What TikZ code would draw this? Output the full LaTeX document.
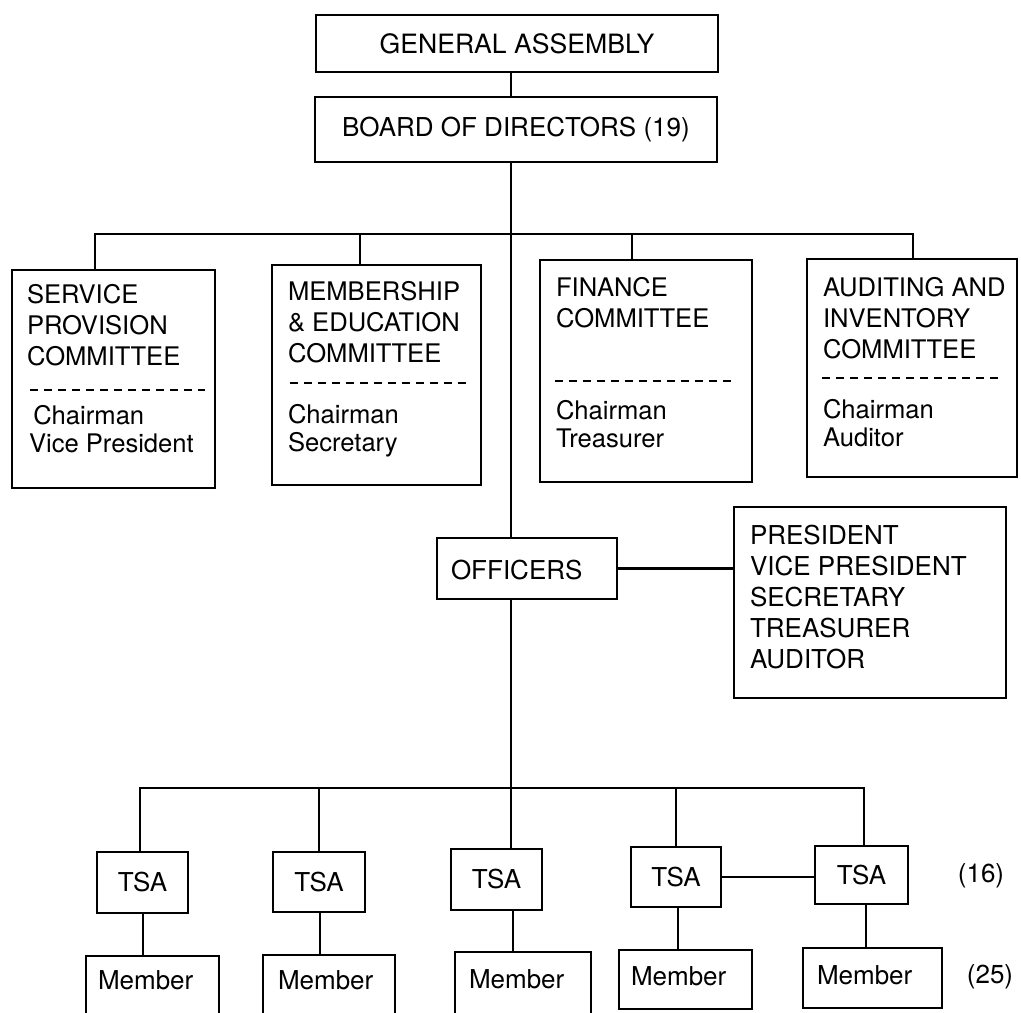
\documentclass[tikz,border=0pt]{standalone}
\usepackage{fontspec}
\setmainfont{TeX Gyre Heros}
\begin{document}
\begin{tikzpicture}[x=0.5pt,y=-0.5pt,
  line width=1.2pt,
  box/.style={draw, rectangle, inner sep=0pt, outer sep=0pt},
  lbl/.style={inner sep=0pt, outer sep=0pt, anchor=north west, align=left},
  ttl/.style={lbl, font=\fontsize{12.8}{15.5}\selectfont},
  subtxt/.style={lbl, font=\fontsize{12.8}{14}\selectfont},
  big/.style={font=\fontsize{13}{15.5}\selectfont},
  dashsep/.style={line width=1pt, dash pattern=on 4pt off 3pt},
]
\useasboundingbox (0,0) rectangle (1021,1012);

% top boxes
\node[box, font=\fontsize{13.3}{15.5}\selectfont, minimum width=201pt, minimum height=28.5pt] (ga) at (517,43.5) {GENERAL ASSEMBLY};
\node[box, big, minimum width=201pt, minimum height=32.5pt] (board) at (516,129.5) {BOARD OF DIRECTORS (19)};

% committees
\node[box, minimum width=101.5pt, minimum height=109pt] (c1) at (113.5,379) {};
\node[box, minimum width=104.5pt, minimum height=110pt] (c2) at (376.5,375) {};
\node[box, minimum width=106pt, minimum height=111pt] (c3) at (646,371) {};
\node[box, minimum width=105pt, minimum height=109pt] (c4) at (912,368) {};

\node[ttl] (c1t) at (27,284) {SERVICE\\PROVISION\\COMMITTEE};
\node[subtxt] (c1s) at (29,405) {\,Chairman\\Vice President};
\draw[dashsep] (30,390) -- (205,390);

\node[ttl] (c2t) at (288,281) {MEMBERSHIP\\\& EDUCATION\\COMMITTEE};
\node[subtxt] (c2s) at (288,404.5) {Chairman\\Secretary};
\draw[dashsep] (290,383) -- (467,383);

\node[ttl] (c3t) at (556,277) {FINANCE\\COMMITTEE};
\node[subtxt] (c3s) at (556,400) {Chairman\\Treasurer};
\draw[dashsep] (555,381) -- (735,381);

\node[ttl] (c4t) at (823,277) {AUDITING AND\\INVENTORY\\COMMITTEE};
\node[subtxt] (c4s) at (823,399) {Chairman\\Auditor};
\draw[dashsep] (822,378) -- (1003,378);

% officers
\node[box, minimum width=90pt, minimum height=30.5pt] (off) at (527,568.5) {};
\node[lbl, big, anchor=west] (offt) at (451,570) {OFFICERS};
\node[box, minimum width=136pt, minimum height=95.5pt] (pres) at (870,602.5) {};
\node[lbl, big] (prest) at (750,525) {PRESIDENT\\VICE PRESIDENT\\SECRETARY\\TREASURER\\AUDITOR};

% TSA
\node[box, big, minimum width=45.5pt, minimum height=30.5pt] (t1) at (142.5,882.5) {TSA};
\node[box, big, minimum width=46pt, minimum height=30pt] (t2) at (319,882) {TSA};
\node[box, big, minimum width=45.5pt, minimum height=30.5pt] (t3) at (496.5,879.5) {TSA};
\node[box, big, minimum width=45pt, minimum height=30pt] (t4) at (676,877) {TSA};
\node[box, big, minimum width=46.5pt, minimum height=29pt] (t5) at (861.5,875) {TSA};
\node[big] (n16) at (981,876) {(16)};

% members
\node[box, minimum width=66.5pt, minimum height=32pt] (m1) at (152.5,988) {};
\node[box, minimum width=66pt, minimum height=32.5pt] (m2) at (329,987.5) {};
\node[box, minimum width=68pt, minimum height=34pt] (m3) at (523,986) {};
\node[box, minimum width=66.5pt, minimum height=29.5pt] (m4) at (685.5,979.5) {};
\node[box, minimum width=69.5pt, minimum height=30pt] (m5) at (872.5,978) {};
\node[lbl, big, anchor=base west] (m1t) at (98,989) {Member};
\node[lbl, big, anchor=base west] (m2t) at (278,989) {Member};
\node[lbl, big, anchor=base west] (m3t) at (469,988) {Member};
\node[lbl, big, anchor=base west] (m4t) at (631,985) {Member};
\node[lbl, big, anchor=base west] (m5t) at (817,984) {Member};
\node[big] (n25) at (990,977) {(25)};

% connector coordinates
\coordinate (spine) at (511,0);
\coordinate (cb) at (0,234);
\coordinate (d1) at (95,0);
\coordinate (d2) at (360,0);
\coordinate (d3) at (632,0);
\coordinate (d4) at (913,0);
\coordinate (bb) at (0,788);
\coordinate (e1) at (140,0);
\coordinate (e2) at (319,0);
\coordinate (e4) at (676,0);
\coordinate (e5) at (864,0);
\coordinate (f1) at (143,0);
\coordinate (f2) at (320,0);
\coordinate (f3) at (513,0);
\coordinate (f4) at (678,0);
\coordinate (f5) at (866,0);

% spine
\draw (ga.south -| spine) -- (board.north -| spine);
\draw (board.south -| spine) -- (off.north -| spine);
\draw (off.south -| spine) -- (t3.north -| spine);

% committee bus
\draw (c1.north -| d1) -- (d1 |- cb) -- (d4 |- cb) -- (c4.north -| d4);
\draw (c2.north -| d2) -- (d2 |- cb);
\draw (c3.north -| d3) -- (d3 |- cb);

% officers link
\draw (off.east) -- (off.east -| pres.west);

% TSA bus
\draw (t1.north -| e1) -- (e1 |- bb) -- (e5 |- bb) -- (t5.north -| e5);
\draw (t2.north -| e2) -- (e2 |- bb);
\draw (t4.north -| e4) -- (e4 |- bb);
\draw (t4.east) -- (t4.east -| t5.west);

% member links
\draw (t1.south -| f1) -- (m1.north -| f1);
\draw (t2.south -| f2) -- (m2.north -| f2);
\draw (t3.south -| f3) -- (m3.north -| f3);
\draw (t4.south -| f4) -- (m4.north -| f4);
\draw (t5.south -| f5) -- (m5.north -| f5);
\end{tikzpicture}
\end{document}
